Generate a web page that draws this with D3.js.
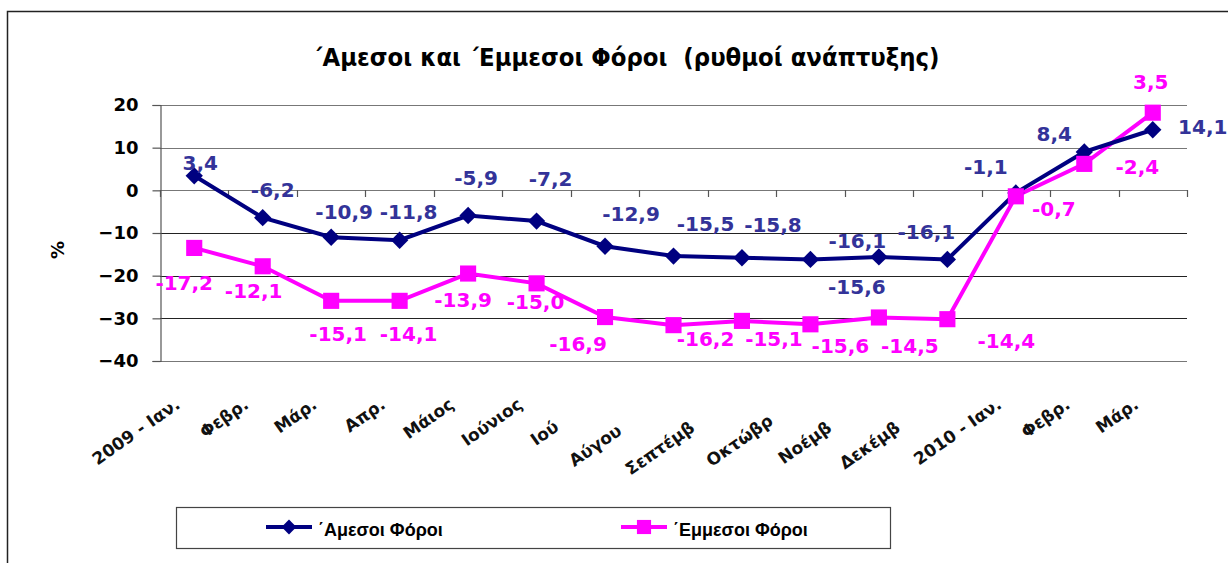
<!DOCTYPE html>
<html>
<head>
  <meta charset="utf-8">
  <title>Άμεσοι και Έμμεσοι Φόροι</title>
  <script src="https://d3js.org/d3.v7.min.js"></script>
  <style>
    body {
      margin: 0;
      background: #ffffff;
    }
    svg text {
      font-family: "DejaVu Sans", sans-serif;
    }
    .ytick text {
      font-size: 18px;
      font-weight: bold;
    }
    .xlab {
      font-size: 17px;
      font-weight: bold;
      fill: #111;
    }
    .dlabel {
      font-size: 20px;
      font-weight: bold;
    }
    .legend-text {
      font-family: "Liberation Sans", Arial, sans-serif;
      font-size: 18px;
      font-weight: bold;
    }
  </style>
</head>
<body>
  <div id="chart"></div>

  <script>
    // months (full name, and the part Excel actually shows)
    const monthsFull = ['2009 - Ιαν.', 'Φεβρ.', 'Μάρ.', 'Απρ.', 'Μάιος', 'Ιούνιος', 'Ιούλιος', 'Αύγουστος',
      'Σεπτέμβριος', 'Οκτώβριος', 'Νοέμβριος', 'Δεκέμβριος', '2010 - Ιαν.', 'Φεβρ.', 'Μάρ.'];
    const monthsShown = ['2009 - Ιαν.', 'Φεβρ.', 'Μάρ.', 'Απρ.', 'Μάιος', 'Ιούνιος', 'Ιού', 'Αύγου',
      'Σεπτέμβ', 'Οκτώβρ', 'Νοέμβ', 'Δεκέμβ', '2010 - Ιαν.', 'Φεβρ.', 'Μάρ.'];

    // plotted values
    const directValues = [3.4, -6.4, -11.0, -11.7, -5.9, -7.2, -13.1, -15.4, -15.8, -16.2, -15.6, -16.2, -0.6, 9.0, 14.2];
    const indirectValues = [-13.5, -17.8, -25.9, -25.9, -19.5, -21.8, -29.7, -31.6, -30.6, -31.4, -29.8, -30.2, -1.4, 6.2, 18.2];

    // data labels as printed on the chart
    const directLabels = ['3,4', '-6,2', '-10,9', '-11,8', '-5,9', '-7,2', '-12,9', '-15,5', '-15,8', '-16,1', '-15,6', '-16,1', '-1,1', '8,4', '14,1'];
    const indirectLabels = ['-17,2', '-12,1', '-15,1', '-14,1', '-13,9', '-15,0', '-16,9', '-16,2', '-15,1', '-15,6', '-14,5', '-14,4', '-0,7', '-2,4', '3,5'];

    const yTicks = [20, 10, 0, -10, -20, -30, -40];

    // label placement relative to each marker (layout only)
    const directLabelOffsets = [[6, -13], [10, -28], [13, -25], [9, -28], [8, -38], [14, -42], [26, -32], [32, -32],
      [31, -33], [47, -18], [-22, 30], [-21, -27], [-30, -26], [-30, -18], [50, -3]];
    const indirectLabelOffsets = [[-10, 35], [-9, 25], [7, 33], [9, 33], [-5, 26], [-1, 19], [-27, 27], [32, 14],
      [32, 18], [30, 22], [31, 29], [59, 22], [38, 13], [53, 3], [-2, -31]];

    const W = 1228, H = 563;
    const plot = { left: 160, right: 1187, top: 105, bottom: 361 };
    const blue = '#000080', blueText = '#333399', pink = '#ff00ff';

    const svg = d3.select('#chart').append('svg')
      .attr('width', W)
      .attr('height', H);

    // outer frame (only left and top edges are inside the window)
    svg.append('path')
      .attr('d', `M7.5,${H + 5}V11.5H${W + 5}`)
      .attr('fill', 'none')
      .attr('stroke', '#222')
      .attr('stroke-width', 1.5);

    // title
    svg.append('text')
      .attr('x', 626)
      .attr('y', 66)
      .attr('text-anchor', 'middle')
      .attr('font-family', '"Liberation Sans", Arial, sans-serif')
      .attr('font-size', 24)
      .attr('font-weight', 'bold')
      .attr('textLength', 627)
      .attr('lengthAdjust', 'spacingAndGlyphs')
      .style('white-space', 'pre')
      .text('΄Αμεσοι και ΄Εμμεσοι Φόροι  (ρυθμοί ανάπτυξης)');

    const x = d3.scaleBand()
      .domain(d3.range(monthsFull.length))
      .range([plot.left, plot.right])
      .padding(0);
    const cx = i => x(i) + x.bandwidth() / 2;

    const y = d3.scaleLinear()
      .domain([-40, 20])
      .range([plot.bottom, plot.top]);

    // horizontal grid
    svg.append('g')
      .selectAll('line')
      .data(yTicks)
      .enter()
      .append('line')
      .attr('x1', plot.left)
      .attr('x2', plot.right)
      .attr('y1', d => Math.round(y(d)) + 0.5)
      .attr('y2', d => Math.round(y(d)) + 0.5)
      .attr('stroke', d => (d <= -10 && d >= -30) ? '#222' : '#777')
      .attr('stroke-width', 1.2);

    // y axis
    const yAxis = svg.append('g')
      .attr('class', 'ytick')
      .attr('transform', `translate(${plot.left + 0.5},0)`)
      .call(d3.axisLeft(y).tickValues(yTicks).tickSize(8).tickPadding(14).tickFormat(d3.format('d')));
    yAxis.select('.domain').attr('stroke', '#555').attr('stroke-width', 1.2);
    yAxis.selectAll('.tick line').attr('stroke', '#555').attr('stroke-width', 1.2);
    yAxis.selectAll('.tick text').attr('fill', '#000');

    // category axis along the zero line, ticks pointing down
    const bounds = d3.range(monthsFull.length + 1);
    svg.append('g')
      .selectAll('line')
      .data(bounds)
      .enter()
      .append('line')
      .attr('x1', d => Math.round(d < monthsFull.length ? x(d) : plot.right) + 0.5)
      .attr('x2', d => Math.round(d < monthsFull.length ? x(d) : plot.right) + 0.5)
      .attr('y1', Math.round(y(0)))
      .attr('y2', Math.round(y(0)) + 7)
      .attr('stroke', '#555')
      .attr('stroke-width', 1.2);

    // y axis title
    svg.append('text')
      .attr('transform', 'translate(64,250) rotate(-90)')
      .attr('text-anchor', 'middle')
      .attr('font-size', 18)
      .attr('font-weight', 'bold')
      .text('%');

    // month labels, rotated; truncated ones keep the start of the full name
    const angle = -35;
    const rad = angle * Math.PI / 180;
    const xl = svg.append('g');
    monthsFull.forEach((full, i) => {
      const ax = cx(i) - 13, ay = 407;
      const t = xl.append('text').attr('class', 'xlab').text(full);
      const fullW = t.node().getComputedTextLength();
      t.text(monthsShown[i]);
      const shownW = t.node().getComputedTextLength();
      const cut = fullW - shownW;
      const ex = ax - cut * Math.cos(rad);
      const ey = ay - cut * Math.sin(rad);
      t.attr('text-anchor', 'end')
        .attr('transform', `translate(${ex},${ey}) rotate(${angle})`);
    });

    const line = d3.line()
      .x((d, i) => cx(i))
      .y(d => y(d));

    // indirect taxes (pink)
    svg.append('path')
      .datum(indirectValues)
      .attr('d', line)
      .attr('fill', 'none')
      .attr('stroke', pink)
      .attr('stroke-width', 4);

    // direct taxes (blue)
    svg.append('path')
      .datum(directValues)
      .attr('d', line)
      .attr('fill', 'none')
      .attr('stroke', blue)
      .attr('stroke-width', 4);

    const diamond = d3.symbol().type(d3.symbolSquare).size(150);
    const square = d3.symbol().type(d3.symbolSquare).size(260);

    svg.append('g')
      .selectAll('path')
      .data(directValues)
      .enter()
      .append('path')
      .attr('d', diamond)
      .attr('transform', (d, i) => `translate(${cx(i)},${y(d)}) rotate(45)`)
      .attr('fill', blue);

    svg.append('g')
      .selectAll('path')
      .data(indirectValues)
      .enter()
      .append('path')
      .attr('d', square)
      .attr('transform', (d, i) => `translate(${cx(i)},${y(d)})`)
      .attr('fill', pink);

    // data labels
    function addLabels(values, labels, offsets, color) {
      svg.append('g')
        .selectAll('text')
        .data(values)
        .enter()
        .append('text')
        .attr('class', 'dlabel')
        .attr('x', (d, i) => cx(i) + offsets[i][0])
        .attr('y', (d, i) => y(d) + offsets[i][1])
        .attr('text-anchor', 'middle')
        .attr('dominant-baseline', 'central')
        .attr('fill', color)
        .text((d, i) => labels[i]);
    }
    addLabels(directValues, directLabels, directLabelOffsets, blueText);
    addLabels(indirectValues, indirectLabels, indirectLabelOffsets, pink);

    // legend
    const legend = svg.append('g');
    legend.append('rect')
      .attr('x', 176.5)
      .attr('y', 507.5)
      .attr('width', 714)
      .attr('height', 41)
      .attr('fill', '#fff')
      .attr('stroke', '#444')
      .attr('stroke-width', 1.2);

    const legendItems = [
      { name: '΄Αμεσοι Φόροι', color: blue, sym: d3.symbol().type(d3.symbolSquare).size(110), rot: 45, x0: 266 },
      { name: '΄Εμμεσοι Φόροι', color: pink, sym: d3.symbol().type(d3.symbolSquare).size(200), rot: 0, x0: 621 }
    ];
    legendItems.forEach(it => {
      const g = legend.append('g').attr('transform', `translate(${it.x0},527)`);
      g.append('line')
        .attr('x1', 0).attr('x2', 46)
        .attr('stroke', it.color)
        .attr('stroke-width', 4);
      g.append('path')
        .attr('d', it.sym)
        .attr('transform', `translate(23,0) rotate(${it.rot})`)
        .attr('fill', it.color);
      g.append('text')
        .attr('class', 'legend-text')
        .attr('x', 52)
        .attr('y', 3)
        .attr('dominant-baseline', 'central')
        .text(it.name);
    });
  </script>
</body>
</html>
